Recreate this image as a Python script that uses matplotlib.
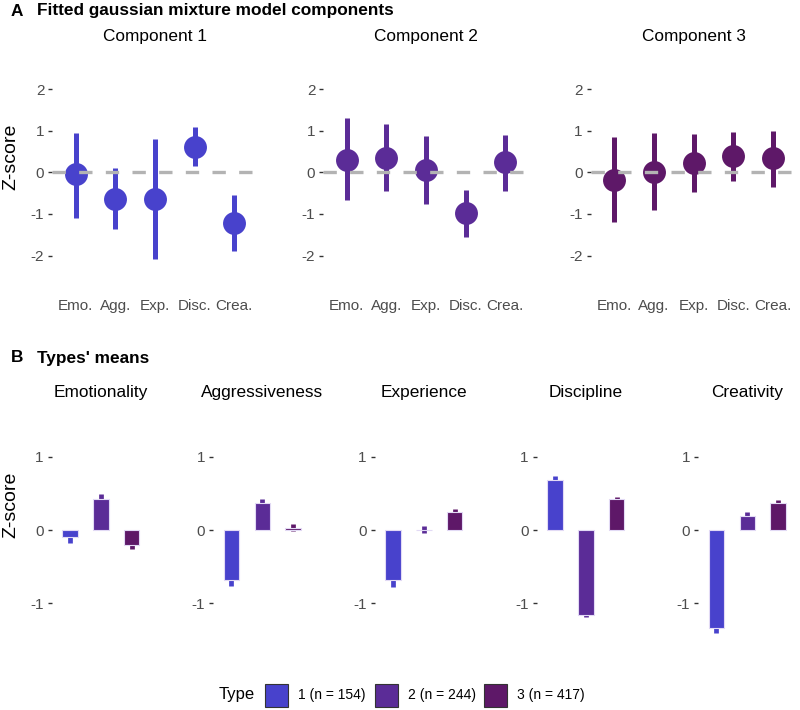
import matplotlib
matplotlib.use("Agg")
import matplotlib.pyplot as plt
from matplotlib.patches import Rectangle

plt.rcParams['font.family'] = ['Liberation Sans', 'DejaVu Sans']

# ---------------- data ----------------
traits_short = ["Emo.", "Agg.", "Exp.", "Disc.", "Crea."]
components = ["Component 1", "Component 2", "Component 3"]
comp1_mean = [-0.04, -0.63, -0.65, 0.62, -1.21]
comp1_lo = [-1.10, -1.37, -2.09, 0.15, -1.88]
comp1_hi = [0.95, 0.11, 0.80, 1.08, -0.55]
comp2_mean = [0.30, 0.34, 0.06, -0.97, 0.24]
comp2_lo = [-0.67, -0.44, -0.76, -1.55, -0.44]
comp2_hi = [1.30, 1.15, 0.87, -0.43, 0.90]
comp3_mean = [-0.18, 0.01, 0.22, 0.39, 0.35]
comp3_lo = [-1.19, -0.90, -0.48, -0.21, -0.35]
comp3_hi = [0.84, 0.94, 0.91, 0.96, 0.99]

traits_full = ["Emotionality", "Aggressiveness", "Experience", "Discipline", "Creativity"]
type_labels = ["1 (n = 154)", "2 (n = 244)", "3 (n = 417)"]
# type means per trait (rows = traits, cols = types 1..3)
type_means = [
    [-0.10, 0.42, -0.21],
    [-0.68, 0.37, 0.03],
    [-0.68, 0.005, 0.25],
    [0.68, -1.16, 0.42],
    [-1.34, 0.195, 0.37],
]
type_se = [
    [0.08, 0.07, 0.05],
    [0.08, 0.05, 0.05],
    [0.10, 0.05, 0.04],
    [0.06, 0.03, 0.03],
    [0.07, 0.05, 0.04],
]

colors = ["#4842CC", "#5B2C97", "#5E1868"]

W, H = 800, 710
fig = plt.figure(figsize=(W / 100, H / 100), dpi=100)


def fx(x):
    return x / W


def fy(y):
    return 1 - y / H


def style_axis(ax):
    for s in ax.spines.values():
        s.set_visible(False)
    ax.tick_params(axis='y', length=3, width=1, color='#333333', pad=2.5,
                   labelsize=11, labelcolor='#4D4D4D')
    ax.tick_params(axis='x', length=0, pad=1.5, labelsize=11, labelcolor='#4D4D4D')
    ax.set_facecolor('none')


# ---------------- Panel A ----------------
fig.text(fx(11), fy(11), "A", fontsize=12.4, fontweight='bold', va='center', ha='left')
fig.text(fx(37), fy(11), "Fitted gaussian mixture model components", fontsize=12.4,
         fontweight='bold', va='center', ha='left')
fig.text(fx(11), fy(157), "Z-score", fontsize=14, rotation=90, va='center', ha='center')

a_lefts = [52, 323, 590.5]
a_top, a_bot = 58, 297
zero_a, ppu_a = 172.3, 41.6
means = [comp1_mean, comp2_mean, comp3_mean]
los = [comp1_lo, comp2_lo, comp3_lo]
his = [comp1_hi, comp2_hi, comp3_hi]
xs = list(range(1, 6))
for i, L in enumerate(a_lefts):
    ax = fig.add_axes([fx(L), fy(a_bot), 206 / W, (a_bot - a_top) / H])
    style_axis(ax)
    ax.vlines(xs, los[i], his[i], color=colors[i], linewidth=3.6, zorder=2)
    ax.plot(xs, means[i], 'o', color=colors[i], markersize=16.5, zorder=3,
            markeredgewidth=0)
    ax.axhline(0, color='#B3B3B3', linewidth=2.4, linestyle=(0, (4, 4)), zorder=4)
    ax.set_xlim(0.4, 5.6)
    ax.set_ylim(-(a_bot - zero_a) / ppu_a, (zero_a - a_top) / ppu_a)
    ax.set_yticks([-2, -1, 0, 1, 2])
    ax.set_yticklabels(["-2", "-1", "0", "1", "2"])
    ax.set_xticks(xs)
    ax.set_xticklabels(traits_short)
    fig.text(fx(L + 103), fy(36), components[i], fontsize=12.4, ha='center', va='center')

# ---------------- Panel B ----------------
fig.text(fx(11), fy(358), "B", fontsize=12.4, fontweight='bold', va='center', ha='left')
fig.text(fx(37), fy(358), "Types' means", fontsize=12.4, fontweight='bold',
         va='center', ha='left')
fig.text(fx(11), fy(505), "Z-score", fontsize=14, rotation=90, va='center', ha='center')

b_lefts = [51.5, 213, 374.5, 536.5, 698]
b_top, b_bot = 405, 645
zero_b, ppu_b = 530, 73.3
bx = [1, 2, 3]
for j, L in enumerate(b_lefts):
    ax = fig.add_axes([fx(L), fy(b_bot), 98.6 / W, (b_bot - b_top) / H])
    style_axis(ax)
    m = type_means[j]
    se = type_se[j]
    ax.vlines(bx, [m[k] - se[k] for k in range(3)], [m[k] + se[k] for k in range(3)],
              colors=colors, linewidth=3.4, zorder=2)
    ax.bar(bx, m, width=0.5, color=colors, edgecolor='#E2DAF5', linewidth=0.8, zorder=3)
    ax.set_xlim(0.4, 3.6)
    ax.set_ylim(-(b_bot - zero_b) / ppu_b, (zero_b - b_top) / ppu_b)
    ax.set_yticks([-1, 0, 1])
    ax.set_yticklabels(["-1", "0", "1"])
    ax.set_xticks([])
    fig.text(fx(L + 49.3), fy(392), traits_full[j], fontsize=12.4, ha='center', va='center')

# ---------------- Legend ----------------
fig.text(fx(237), fy(695), "Type", fontsize=12, ha='center', va='center')
box_x = [265, 375, 484]
for k in range(3):
    fig.patches.append(Rectangle((fx(box_x[k]), fy(706.5)), 23 / W, 23 / H,
                                 transform=fig.transFigure, facecolor=colors[k],
                                 edgecolor='#333333', linewidth=0.8))
    fig.text(fx(box_x[k] + 33), fy(695), type_labels[k], fontsize=10, ha='left',
             va='center')

fig.savefig("out.png", dpi=100, facecolor='white')
